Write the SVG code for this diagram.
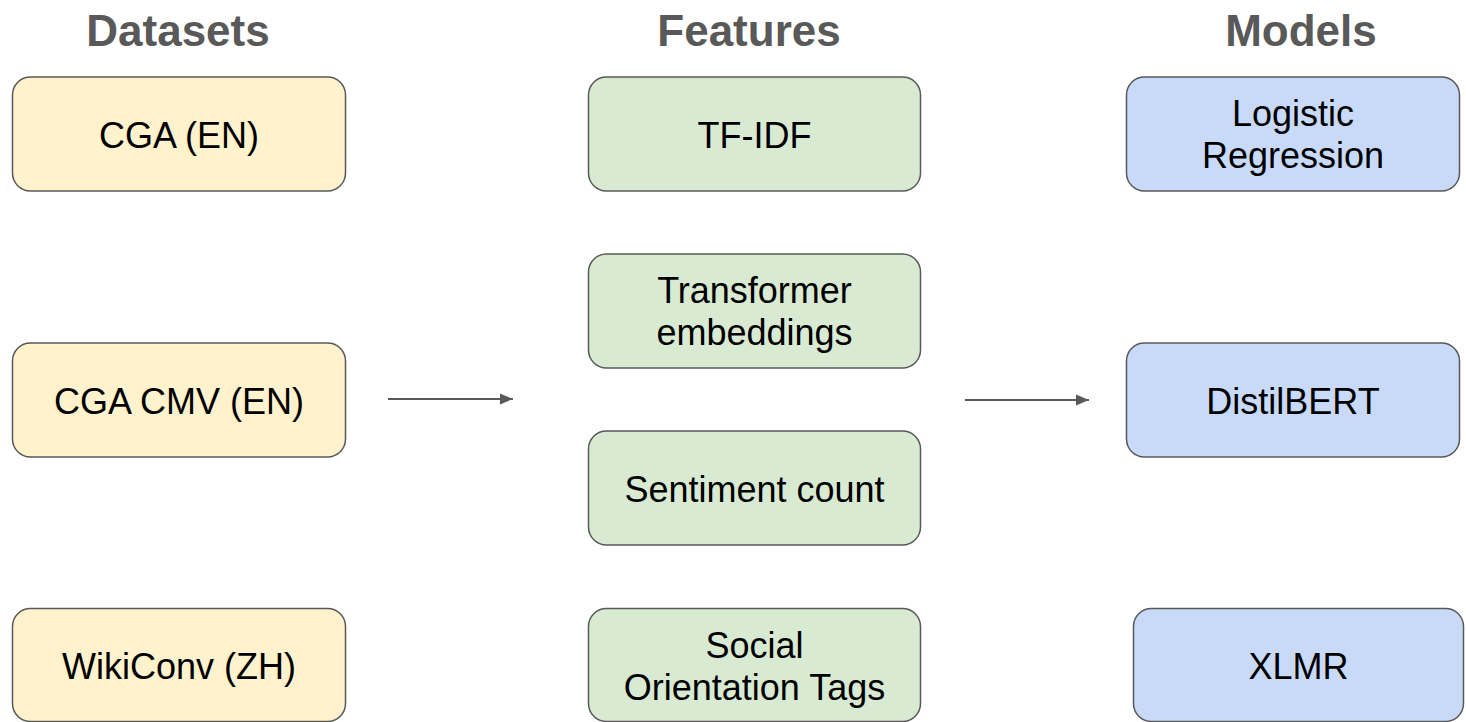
<svg xmlns="http://www.w3.org/2000/svg" width="1466" height="722" viewBox="0 0 1466 722">
<defs>
<style>
.h{font-family:"Liberation Sans",Arial,sans-serif;font-weight:bold;font-size:44px;fill:#595959;text-anchor:middle}
.t{font-family:"Liberation Sans",Arial,sans-serif;font-size:36px;fill:#000;text-anchor:middle}
.box{stroke:#595959;stroke-width:1.5}
.ds{fill:#fff2cc}
.ft{fill:#d9ead3}
.md{fill:#c9daf8}
.conn{stroke:#595959;stroke-width:2;fill:none}
</style>
<marker id="arr" markerWidth="14" markerHeight="12" refX="13" refY="6" orient="auto" markerUnits="userSpaceOnUse">
<path d="M0,0.5 L13,6 L0,11.5 Z" fill="#595959"/>
</marker>
</defs>
<rect width="1466" height="722" fill="#fff"/>
<g id="headings">
<text class="h" x="178" y="46">Datasets</text>
<text class="h" x="749" y="46">Features</text>
<text class="h" x="1301" y="46">Models</text>
</g>
<g id="ds-cga">
<rect class="box ds" x="12.5" y="77" width="333" height="114" rx="18"/>
<text class="t" x="179" y="148">CGA (EN)</text>
</g>
<g id="ds-cmv">
<rect class="box ds" x="12.5" y="343" width="333" height="114" rx="18"/>
<text class="t" x="179" y="414">CGA CMV (EN)</text>
</g>
<g id="ds-wiki">
<rect class="box ds" x="12.5" y="608.5" width="333" height="113" rx="18"/>
<text class="t" x="179" y="679">WikiConv (ZH)</text>
</g>
<g id="ft-tfidf">
<rect class="box ft" x="588.5" y="77" width="332" height="114" rx="18"/>
<text class="t" x="754.5" y="148">TF-IDF</text>
</g>
<g id="ft-trans">
<rect class="box ft" x="588.5" y="254" width="332" height="114" rx="18"/>
<text class="t" x="754.5" y="303">Transformer</text>
<text class="t" x="754.5" y="345">embeddings</text>
</g>
<g id="ft-sent">
<rect class="box ft" x="588.5" y="431" width="332" height="114" rx="18"/>
<text class="t" x="754.5" y="502">Sentiment count</text>
</g>
<g id="ft-social">
<rect class="box ft" x="588.5" y="608.5" width="332" height="113" rx="18"/>
<text class="t" x="754.5" y="658">Social</text>
<text class="t" x="754.5" y="700">Orientation Tags</text>
</g>
<g id="md-lr">
<rect class="box md" x="1126.5" y="77" width="333" height="114" rx="18"/>
<text class="t" x="1293" y="126">Logistic</text>
<text class="t" x="1293" y="168">Regression</text>
</g>
<g id="md-distil">
<rect class="box md" x="1126.5" y="343" width="333" height="114" rx="18"/>
<text class="t" x="1293" y="414">DistilBERT</text>
</g>
<g id="md-xlmr">
<rect class="box md" x="1133.5" y="608.5" width="330" height="113" rx="18"/>
<text class="t" x="1298.5" y="679">XLMR</text>
</g>
<g id="connectors">
<line class="conn" x1="388" y1="399" x2="513" y2="399" marker-end="url(#arr)"/>
<line class="conn" x1="965" y1="400" x2="1089" y2="400" marker-end="url(#arr)"/>
</g>
</svg>
